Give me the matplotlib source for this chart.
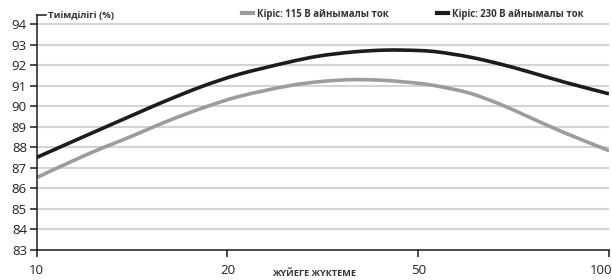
import matplotlib
matplotlib.use("Agg")
import matplotlib.pyplot as plt
import matplotlib.transforms as mtrans
from matplotlib.lines import Line2D
from matplotlib.path import Path
from matplotlib.patches import PathPatch
import numpy as np

plt.rcParams['font.family'] = ['Open Sans', 'DejaVu Sans']

# Category tick labels (evenly spaced on the x axis)
x_labels = ["10", "20", "50", "100"]
# Positions along the categorical axis where values were read
pos_115 = [0, 0.27, 0.5, 0.68, 0.87, 1.06, 1.31, 1.48, 1.66, 1.83, 2.0, 2.11, 2.27, 2.43, 2.58, 2.77, 3.0]
eff_115 = [86.53, 87.68, 88.55, 89.26, 89.92, 90.48, 90.98, 91.2, 91.3, 91.26, 91.12, 90.97, 90.64, 90.1, 89.48, 88.7, 87.84]
pos_230 = [0, 0.27, 0.54, 0.68, 0.87, 1.06, 1.31, 1.48, 1.66, 1.83, 2.0, 2.11, 2.27, 2.43, 2.58, 2.77, 3.0]
eff_230 = [87.51, 88.62, 89.72, 90.28, 90.98, 91.56, 92.13, 92.45, 92.65, 92.74, 92.72, 92.64, 92.4, 92.06, 91.68, 91.17, 90.61]
y_ticks = list(range(83, 95))

label_115 = "Кіріс: 115 В айнымалы ток"
label_230 = "Кіріс: 230 В айнымалы ток"


def smooth_path(xs, ys):
    """Bezier path through the points (Catmull-Rom style control points)."""
    P = np.column_stack([xs, ys]).astype(float)
    n = len(P)
    verts = [tuple(P[0])]
    codes = [Path.MOVETO]
    for i in range(n - 1):
        p0 = P[i - 1] if i > 0 else P[i]
        p1, p2 = P[i], P[i + 1]
        p3 = P[i + 2] if i + 2 < n else P[i + 1]
        c1 = p1 + (p2 - p0) / 6.0
        c2 = p2 - (p3 - p1) / 6.0
        verts += [tuple(c1), tuple(c2), tuple(p2)]
        codes += [Path.CURVE4] * 3
    return Path(verts, codes)


fig = plt.figure(figsize=(6.12, 2.8), dpi=100)
ax = fig.add_axes([36.7/612, 30/280, (609-36.7)/612, (265-30)/280])

for yv in y_ticks[1:]:
    ax.axhline(yv, color="#d4d4d4", lw=1.5, zorder=1)

for xs, ys, col, lab, z in [(pos_115, eff_115, "#9c9c9c", label_115, 3),
                            (pos_230, eff_230, "#1c1c1c", label_230, 4)]:
    ax.add_patch(PathPatch(smooth_path(xs, ys), facecolor="none", edgecolor=col,
                           lw=2.6, capstyle="butt", zorder=z))
    ax.plot([], [], color=col, lw=3, label=lab)

ax.set_xlim(0, 3)
ax.set_ylim(83, 94.45)
ax.set_xticks(range(len(x_labels)))
ax.set_xticklabels(x_labels)
ax.set_yticks(y_ticks)
ax.set_yticklabels([str(v) for v in y_ticks])

for s in ["top", "right"]:
    ax.spines[s].set_visible(False)
for s in ["left", "bottom"]:
    ax.spines[s].set_linewidth(1.1)
    ax.spines[s].set_color("#1a1a1a")
    ax.spines[s].set_zorder(5)

ax.tick_params(axis="both", direction="out", length=5, width=1.1, color="#1a1a1a",
               labelsize=9.5, labelcolor="#222222")
ax.tick_params(axis="y", pad=2)
ax.tick_params(axis="x", pad=5)
lab_last = ax.get_xticklabels()[-1]
lab_last.set_horizontalalignment("right")
lab_last.set_transform(lab_last.get_transform() + mtrans.ScaledTranslation(3/100, 0, fig.dpi_scale_trans))

# small top cap on y axis
ax.add_line(Line2D([0, 9/572.3], [1, 1], transform=ax.transAxes, color="#1a1a1a", lw=1.1, clip_on=False))

fig.text(48/612, 1 - 15/280, "Тиімділігі (%)", fontsize=6.8, fontweight="bold", color="#333333",
         va="center", ha="left")
fig.text(314/612, 1 - 273/280, "ЖҮЙЕГЕ ЖҮКТЕМЕ", fontsize=6.6, fontweight="bold", color="#333333",
         va="center", ha="center")

leg = ax.legend(loc="center left", bbox_to_anchor=(242/612, 1 - 14/280), bbox_transform=fig.transFigure,
                ncol=2, frameon=False, fontsize=6.9, handlelength=1.1, handletextpad=0.5,
                columnspacing=5.0, borderpad=0, borderaxespad=0)
for t in leg.get_texts():
    t.set_fontweight("bold")
    t.set_color("#333333")
for h in leg.get_lines():
    h.set_linewidth(3)

fig.savefig("out.png", dpi=100)
